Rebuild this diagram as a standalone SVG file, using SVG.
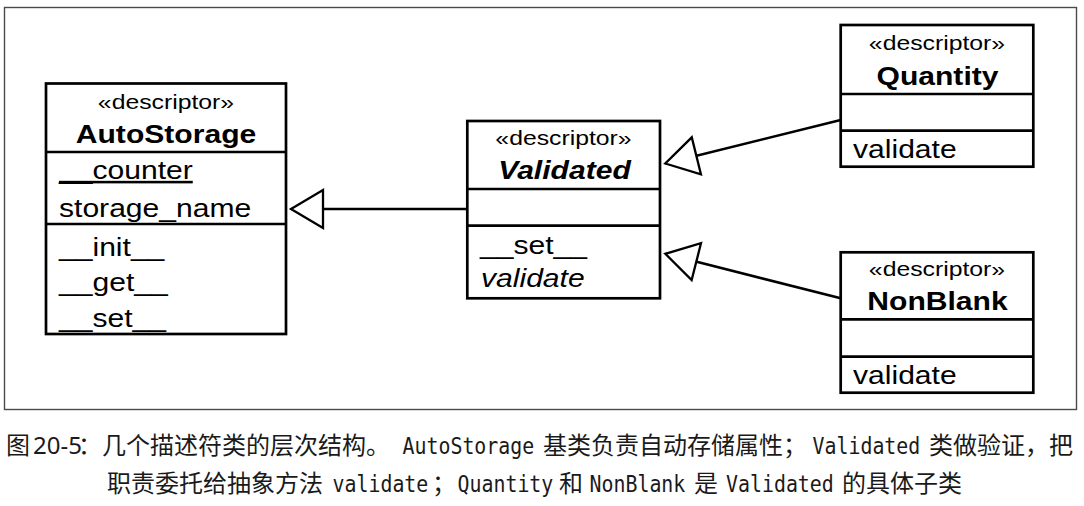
<svg xmlns="http://www.w3.org/2000/svg" width="1084" height="506" viewBox="0 0 1084 506">
<style>
  .frame{fill:none;stroke:#4a4a4a;stroke-width:1.4}
  .box{fill:#fff;stroke:#000;stroke-width:2.7}
  .div{stroke:#000;stroke-width:2.7}
  .st{font-family:"Liberation Sans",Arial,sans-serif;font-size:21px;fill:#000;text-anchor:middle}
  .ti{font-family:"Liberation Sans",Arial,sans-serif;font-size:25.5px;font-weight:bold;fill:#000;text-anchor:middle}
  .tii{font-style:italic}
  .at{font-family:"Liberation Sans",Arial,sans-serif;font-size:25.5px;fill:#000}
  .it{font-style:italic}
  .ul{text-decoration:underline}
  .conn{stroke:#000;stroke-width:2.6;fill:none}
  .cap{font-family:"Noto Sans CJK SC","Noto Sans",sans-serif;font-size:24px;fill:#1a1a1a}
  .num{font-family:"Noto Sans","Noto Sans CJK SC",sans-serif;font-size:24px;fill:#1a1a1a}
  .mono{font-family:"DejaVu Sans Mono","Liberation Mono",monospace;font-size:23px;fill:#1a1a1a}
</style>
<defs>
  <marker id="gen" markerUnits="userSpaceOnUse" orient="auto" viewBox="-36 -22 40 44" markerWidth="40" markerHeight="44" refX="0" refY="0" overflow="visible">
    <path d="M0,0 L-32,-19 L-32,19 Z" fill="#fff" stroke="#000" stroke-width="2.3"/>
  </marker>
</defs>
<rect width="1084" height="506" fill="#fff"/>
<rect class="frame" x="4.5" y="7.5" width="1072" height="402"/>

<g id="connectors">
  <line class="conn" x1="467" y1="209" x2="291" y2="209" marker-end="url(#gen)"/>
  <line class="conn" x1="840.7" y1="120" x2="665.3" y2="163.5" marker-end="url(#gen)"/>
  <line class="conn" x1="840.7" y1="298.3" x2="665.3" y2="253.8" marker-end="url(#gen)"/>
</g>

<g id="AutoStorage">
  <rect class="box" x="46" y="83.5" width="240" height="250.5"/>
  <line class="div" x1="46" y1="152" x2="286" y2="152"/>
  <line class="div" x1="46" y1="224" x2="286" y2="224"/>
  <text class="st" transform="translate(166,108.5) scale(1.18,1)">«descriptor»</text>
  <text class="ti" transform="translate(166,143) scale(1.18,1)">AutoStorage</text>
  <text class="at ul" transform="translate(59,179) scale(1.18,1)">__counter</text>
  <text class="at" transform="translate(59,216.5) scale(1.18,1)">storage_name</text>
  <text class="at" transform="translate(59,256) scale(1.18,1)">__init__</text>
  <text class="at" transform="translate(59,291) scale(1.18,1)">__get__</text>
  <text class="at" transform="translate(59,326.5) scale(1.18,1)">__set__</text>
</g>

<g id="Validated">
  <rect class="box" x="467.3" y="121" width="192.7" height="177.3"/>
  <line class="div" x1="467.3" y1="189" x2="660" y2="189"/>
  <line class="div" x1="467.3" y1="225.7" x2="660" y2="225.7"/>
  <text class="st" transform="translate(563.5,144.5) scale(1.18,1)">«descriptor»</text>
  <text class="ti tii" transform="translate(564.5,179.3) scale(1.18,1)">Validated</text>
  <text class="at" transform="translate(480,254) scale(1.18,1)">__set__</text>
  <text class="at it" transform="translate(481,286.7) scale(1.18,1)">validate</text>
</g>

<g id="Quantity">
  <rect class="box" x="840.7" y="25" width="192.6" height="141.7"/>
  <line class="div" x1="840.7" y1="94" x2="1033.3" y2="94"/>
  <line class="div" x1="840.7" y1="130.7" x2="1033.3" y2="130.7"/>
  <text class="st" transform="translate(937,49.5) scale(1.18,1)">«descriptor»</text>
  <text class="ti" transform="translate(937.5,85) scale(1.18,1)">Quantity</text>
  <text class="at" transform="translate(853,158.3) scale(1.18,1)">validate</text>
</g>

<g id="NonBlank">
  <rect class="box" x="840.7" y="252.3" width="192.6" height="140.4"/>
  <line class="div" x1="840.7" y1="319.3" x2="1033.3" y2="319.3"/>
  <line class="div" x1="840.7" y1="356.7" x2="1033.3" y2="356.7"/>
  <text class="st" transform="translate(937,275.5) scale(1.18,1)">«descriptor»</text>
  <text class="ti" transform="translate(937.5,310.2) scale(1.18,1)">NonBlank</text>
  <text class="at" transform="translate(853,384.2) scale(1.18,1)">validate</text>
</g>

<g id="caption">
  <text class="cap" x="6" y="454">图</text>
  <text class="num" x="33" y="454">20-5</text>
  <text class="cap" x="78" y="454">：几个描述符类的层次结构。</text>
  <text class="mono" transform="translate(402.5,454) scale(0.865,1)">AutoStorage</text>
  <text class="cap" x="543" y="454">基类负责自动存储属性；</text>
  <text class="mono" transform="translate(812.5,454) scale(0.865,1)">Validated</text>
  <text class="cap" x="929" y="454">类做验证，把</text>
  <text class="cap" x="107" y="491.5">职责委托给抽象方法</text>
  <text class="mono" transform="translate(332.5,491.5) scale(0.865,1)">validate</text>
  <text class="cap" x="432" y="491.5">；</text>
  <text class="mono" transform="translate(457.5,491.5) scale(0.865,1)">Quantity</text>
  <text class="cap" x="559" y="491.5">和</text>
  <text class="mono" transform="translate(589.5,491.5) scale(0.865,1)">NonBlank</text>
  <text class="cap" x="694" y="491.5">是</text>
  <text class="mono" transform="translate(726,491.5) scale(0.865,1)">Validated</text>
  <text class="cap" x="842" y="491.5">的具体子类</text>
</g>
</svg>
